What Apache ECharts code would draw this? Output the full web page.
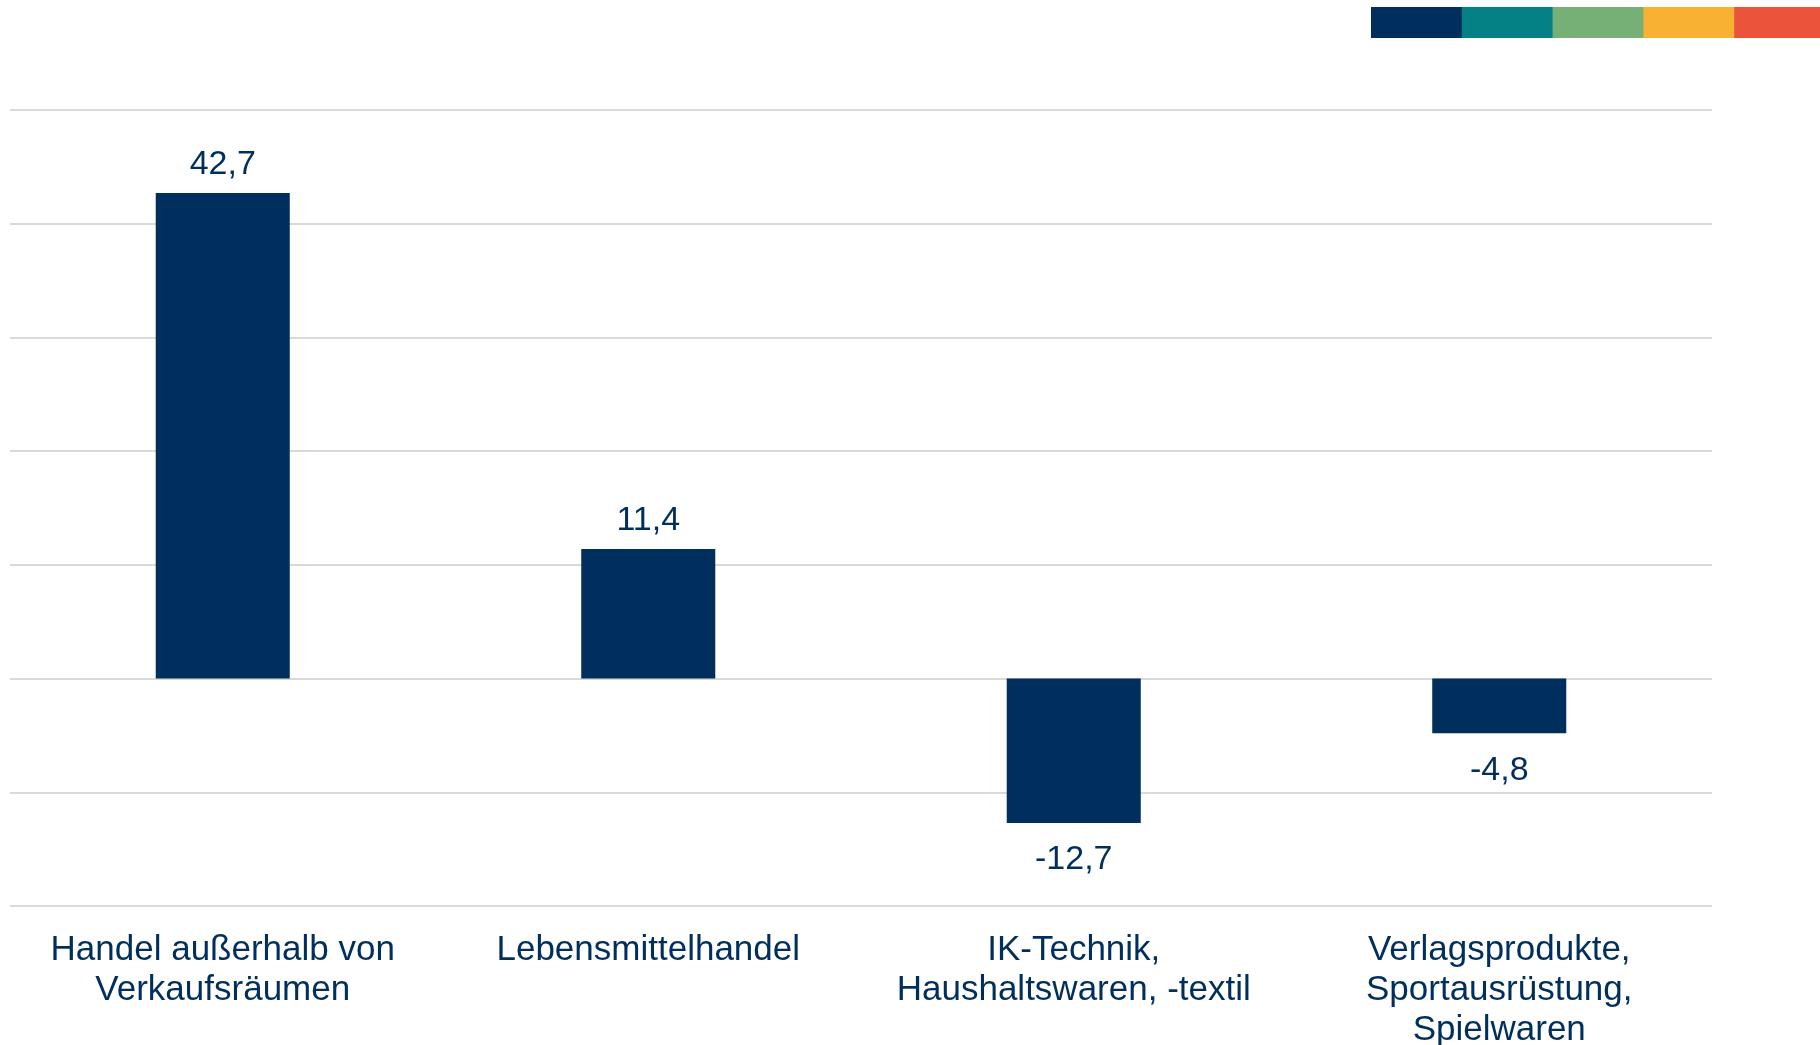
<!DOCTYPE html>
<html>
<head>
<meta charset="utf-8">
<title>Umsatzentwicklung Handel</title>
<script src="https://cdn.jsdelivr.net/npm/echarts@6/dist/echarts.min.js"></script>
<style>
  html, body { margin: 0; padding: 0; background: #fff; }
  #chart { width: 1820px; height: 1045px; }
</style>
</head>
<body>
<div id="chart"></div>
<script>
// Kategorien (Zeilenumbrüche wie im Original)
const categories = [
  'Handel außerhalb von\nVerkaufsräumen',
  'Lebensmittelhandel',
  'IK-Technik,\nHaushaltswaren, -textil',
  'Verlagsprodukte,\nSportausrüstung,\nSpielwaren'
]
// Veränderung in %
const values = [42.7, 11.4, -12.7, -4.8]
// Farbleiste oben rechts
const brandColors = ['#002f5d', '#038184', '#76b077', '#f8b133', '#eb533a']

const navy = '#002f5d'
const font = '"Liberation Sans", Arial, sans-serif'

const chart = echarts.init(document.getElementById('chart'))

const barData = values.map(v => ({
  value: v,
  label: {
    position: v < 0 ? 'bottom' : 'top',
    distance: v < 0 ? 20 : 11
  }
}))

// Farbleiste als Grafik
const stripe = brandColors.map((c, i) => ({
  type: 'rect',
  left: 1371 + i * 90.8,
  top: 7,
  shape: { width: 91.5, height: 31 },
  style: { fill: c }
}))

const option = {
  animation: false,
  textStyle: { fontFamily: font },
  graphic: stripe,
  grid: {
    left: 10,
    right: 108,
    top: 110,
    bottom: 139,
    containLabel: false,
    // v6: Grid nicht wegen der Achsenbeschriftung verkleinern
    outerBoundsMode: 'none'
  },
  xAxis: {
    type: 'category',
    data: categories,
    axisLine: { show: false },
    axisTick: { show: false },
    axisLabel: {
      interval: 0,
      margin: 24,
      fontSize: 35,
      lineHeight: 40,
      color: navy,
      fontFamily: font,
      align: 'center'
    }
  },
  yAxis: {
    type: 'value',
    min: -20,
    max: 50,
    interval: 10,
    axisLabel: { show: false },
    axisLine: { show: false },
    axisTick: { show: false },
    splitLine: {
      show: true,
      lineStyle: { color: '#d9d9d9', width: 2 }
    }
  },
  series: [{
    type: 'bar',
    data: barData,
    barWidth: '31.5%',
    itemStyle: { color: navy },
    label: {
      show: true,
      fontSize: 34,
      color: navy,
      fontFamily: font,
      formatter: p => String(p.value).replace('.', ',')
    }
  }]
}

chart.setOption(option)
</script>
</body>
</html>
